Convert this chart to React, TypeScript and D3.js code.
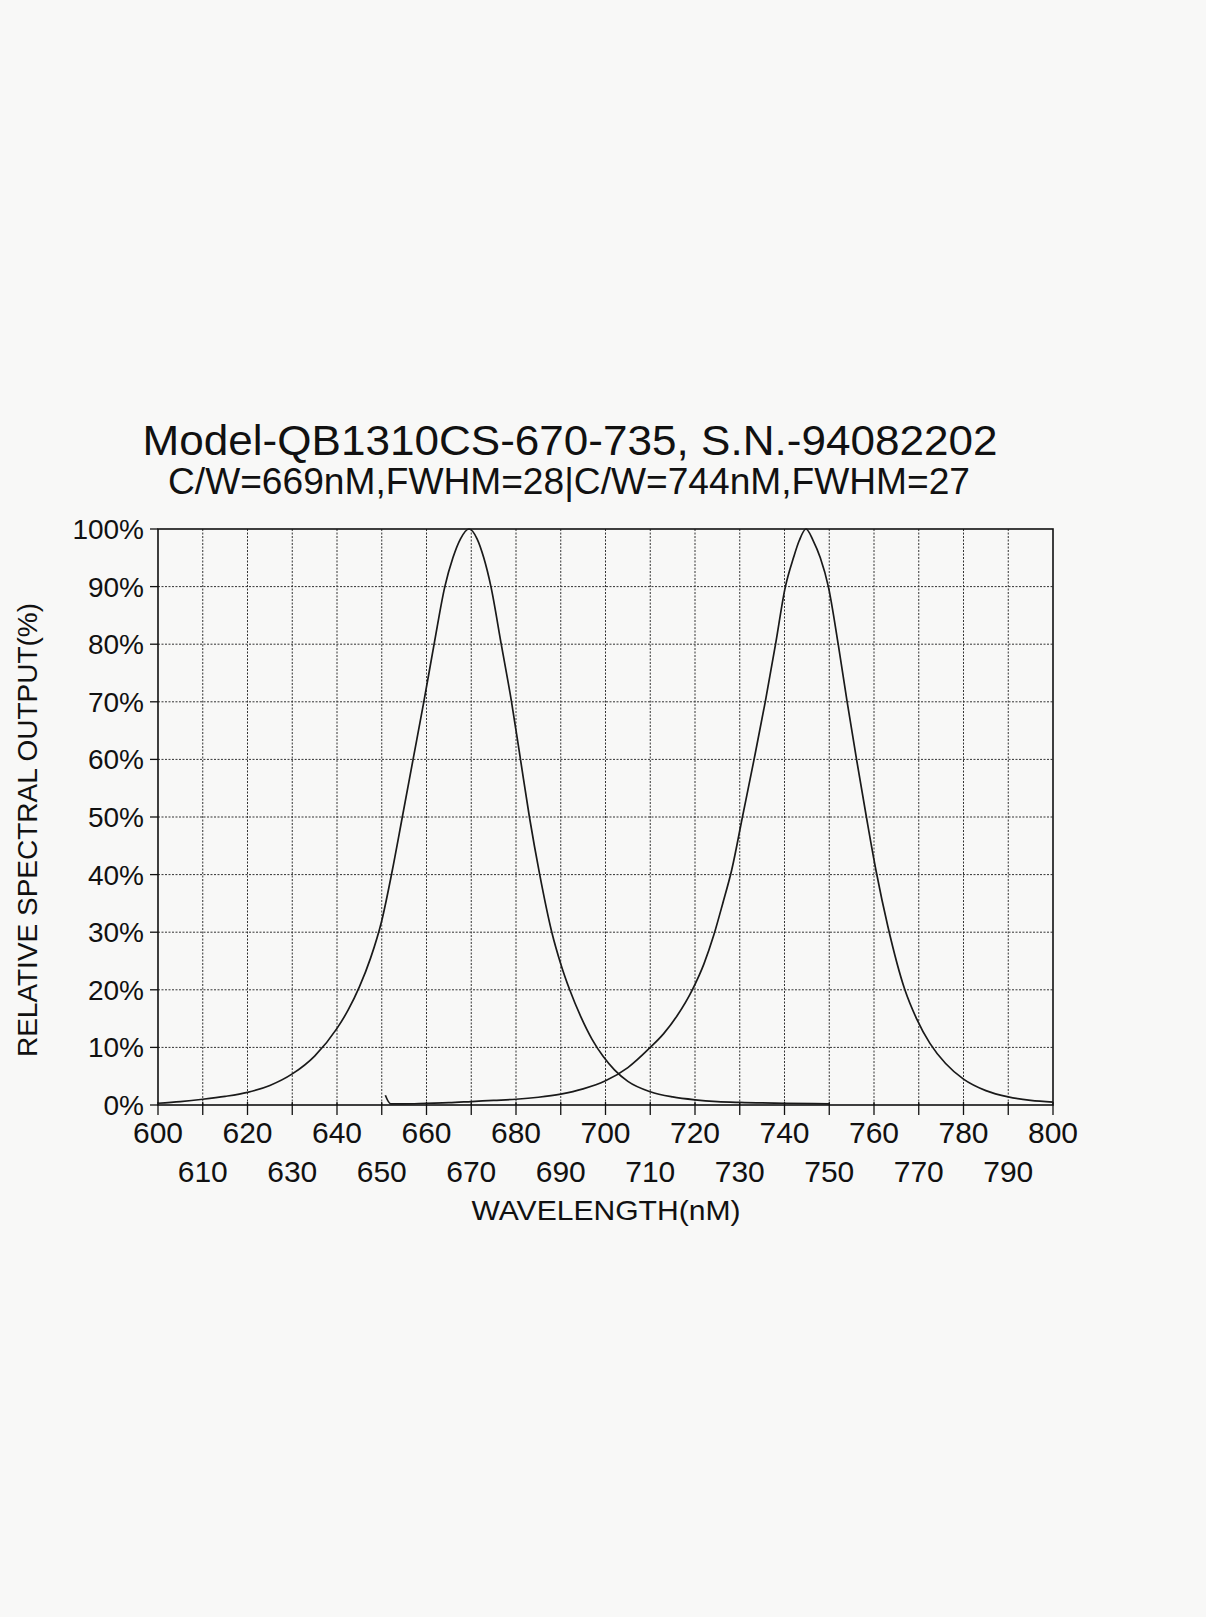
import { useEffect, useRef } from 'react'
import * as d3 from 'd3'

// Curve 1 (C/W 669nM): wavelength (nM) and relative output (%)
const peak1Wavelength = [
  600, 605, 610, 615, 620, 625, 630, 635, 640, 642.5, 645, 647.5, 650, 652.3, 654.6, 657,
  659.4, 661.7, 664.1, 665.9, 667.6, 669.5, 671.3, 672.8, 674.4, 676.7, 679, 681, 683,
  685.3, 688, 690, 692, 694.5, 697, 699.5, 702, 705, 710, 715, 720, 725, 730, 740, 750,
]
const peak1Output = [
  0.3, 0.6, 1.0, 1.5, 2.2, 3.4, 5.4, 8.5, 13.3, 16.5, 20.5, 25.5, 32, 40.5, 50, 60,
  70, 80, 90, 95, 98.3, 100, 98.3, 95, 90, 80, 70, 60, 50,
  40, 30, 24.5, 20, 15.3, 11.4, 8.4, 6.1, 4.1, 2.3, 1.4, 0.9, 0.6, 0.45, 0.3, 0.2,
]

// Curve 2 (C/W 744nM)
const peak2Wavelength = [
  650.8, 652, 655, 660, 665, 670, 675, 680, 685, 690, 695, 700, 705, 710, 713, 716, 719.4,
  722, 724.2, 726.2, 728.2, 730.6, 733.2, 735.7, 738, 740.2, 742, 743.3, 744.8, 746.4,
  748, 749.8, 752, 754, 756.1, 758.3, 760.5, 763.1, 766.9, 769.5, 772.5, 776, 780, 785,
  790, 795, 800,
]
const peak2Output = [
  1.7, 0.2, 0.2, 0.3, 0.4, 0.6, 0.8, 1.0, 1.35, 1.9, 2.8, 4.2, 6.5, 10, 12.4, 15.5, 20,
  24.5, 29.5, 35, 40.8, 50, 60, 70, 80, 90, 95, 98, 100, 98,
  95, 90, 80, 70, 60, 50, 40.5, 31, 20, 15, 10.7, 7.2, 4.5, 2.5,
  1.4, 0.8, 0.5,
]

const xTicks = d3.range(600, 801, 10)
const yTicks = d3.range(0, 101, 10)

const title = 'Model-QB1310CS-670-735, S.N.-94082202'
const subtitle = 'C/W=669nM,FWHM=28|C/W=744nM,FWHM=27'
const xTitle = 'WAVELENGTH(nM)'
const yTitle = 'RELATIVE SPECTRAL OUTPUT(%)'

export default function App() {
  const svgRef = useRef<SVGSVGElement | null>(null)

  useEffect(() => {
    if (!svgRef.current) return

    const width = 1206
    const height = 1617
    const left = 158
    const right = 1053
    const top = 529
    const bottom = 1105
    const font = "'Liberation Sans', Arial, Helvetica, sans-serif"

    d3.select(svgRef.current).selectAll('*').remove()

    const svg = d3
      .select(svgRef.current)
      .attr('width', width)
      .attr('height', height)
      .style('font-family', font)

    svg.append('rect').attr('width', width).attr('height', height).attr('fill', '#f8f8f7')

    const x = d3.scaleLinear().domain([600, 800]).range([left, right])
    const y = d3.scaleLinear().domain([0, 100]).range([bottom, top])

    // Titles
    svg
      .append('text')
      .attr('x', 570)
      .attr('y', 455)
      .attr('text-anchor', 'middle')
      .attr('textLength', 855)
      .attr('lengthAdjust', 'spacingAndGlyphs')
      .style('font-size', '43px')
      .attr('fill', '#111')
      .text(title)

    svg
      .append('text')
      .attr('x', 569)
      .attr('y', 494)
      .attr('text-anchor', 'middle')
      .attr('textLength', 802)
      .attr('lengthAdjust', 'spacingAndGlyphs')
      .style('font-size', '36px')
      .attr('fill', '#111')
      .text(subtitle)

    // Dotted grid
    const grid = svg.append('g').attr('stroke', '#333').attr('stroke-width', 1).attr('stroke-dasharray', '2,1.5')
    grid
      .selectAll('.vgrid')
      .data(xTicks.slice(1, -1))
      .enter()
      .append('line')
      .attr('x1', d => x(d))
      .attr('x2', d => x(d))
      .attr('y1', top)
      .attr('y2', bottom)
    grid
      .selectAll('.hgrid')
      .data(yTicks.slice(1, -1))
      .enter()
      .append('line')
      .attr('x1', left)
      .attr('x2', right)
      .attr('y1', d => y(d))
      .attr('y2', d => y(d))

    // Frame
    svg
      .append('rect')
      .attr('x', left)
      .attr('y', top)
      .attr('width', right - left)
      .attr('height', bottom - top)
      .attr('fill', 'none')
      .attr('stroke', '#111')
      .attr('stroke-width', 1.6)

    // Tick marks
    svg
      .append('g')
      .selectAll('line')
      .data(xTicks)
      .enter()
      .append('line')
      .attr('x1', d => x(d))
      .attr('x2', d => x(d))
      .attr('y1', bottom - 3)
      .attr('y2', bottom + 10)
      .attr('stroke', '#111')
      .attr('stroke-width', 1.3)
    svg
      .append('g')
      .selectAll('line')
      .data(yTicks)
      .enter()
      .append('line')
      .attr('x1', left - 8)
      .attr('x2', left)
      .attr('y1', d => y(d))
      .attr('y2', d => y(d))
      .attr('stroke', '#111')
      .attr('stroke-width', 1.3)

    // X tick labels in two staggered rows
    svg
      .append('g')
      .selectAll('text')
      .data(xTicks)
      .enter()
      .append('text')
      .attr('x', d => x(d))
      .attr('y', d => (d % 20 === 0 ? 1143 : 1182))
      .attr('text-anchor', 'middle')
      .style('font-size', '30px')
      .attr('fill', '#111')
      .text(d => String(d))

    // Y tick labels
    svg
      .append('g')
      .selectAll('text')
      .data(yTicks)
      .enter()
      .append('text')
      .attr('x', 144)
      .attr('y', d => y(d) + 10)
      .attr('text-anchor', 'end')
      .style('font-size', '28px')
      .attr('fill', '#111')
      .text(d => d + '%')

    // Axis titles
    svg
      .append('text')
      .attr('x', 606)
      .attr('y', 1220)
      .attr('text-anchor', 'middle')
      .attr('textLength', 269)
      .attr('lengthAdjust', 'spacingAndGlyphs')
      .style('font-size', '28px')
      .attr('fill', '#111')
      .text(xTitle)

    svg
      .append('text')
      .attr('transform', 'translate(37, 830) rotate(-90)')
      .attr('text-anchor', 'middle')
      .attr('textLength', 454)
      .attr('lengthAdjust', 'spacingAndGlyphs')
      .style('font-size', '28px')
      .attr('fill', '#111')
      .text(yTitle)

    // Spectral curves
    const line = d3
      .line<[number, number]>()
      .x(d => x(d[0]))
      .y(d => y(d[1]))
      .curve(d3.curveMonotoneX)

    const series: [number, number][][] = [
      peak1Wavelength.map((w, i) => [w, peak1Output[i]] as [number, number]),
      peak2Wavelength.map((w, i) => [w, peak2Output[i]] as [number, number]),
    ]

    svg
      .append('g')
      .selectAll('path')
      .data(series)
      .enter()
      .append('path')
      .attr('d', d => line(d))
      .attr('fill', 'none')
      .attr('stroke', '#1a1a1a')
      .attr('stroke-width', 1.7)
  }, [])

  return (
    <div style={{ position: 'absolute', left: 0, top: 0 }}>
      <svg ref={svgRef} style={{ display: 'block' }}></svg>
    </div>
  )
}
